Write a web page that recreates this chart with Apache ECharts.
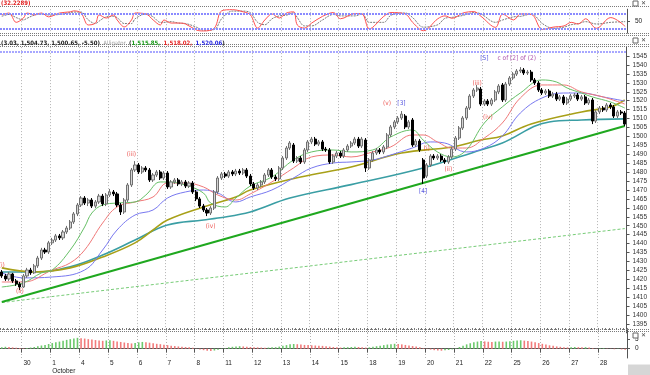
<!DOCTYPE html>
<html><head><meta charset="utf-8">
<script src="https://cdn.jsdelivr.net/npm/echarts@6/dist/echarts.min.js"></script>
<style>html,body{margin:0;padding:0;background:#fff}#c{width:650px;height:375px}</style>
</head><body><div id="c"></div>
<script>
// ---------- data ----------
const dayLabels = ['30','1','4','5','6','7','8','11','12','13','14','15','18','19','20','21','22','25','26','27','28'];
const monthUnder = {'1':'October'};
const leadBars = 6, barsPerDay = 8;

const opens = [1424.1,1421.9,1420.2,1423.0,1419.1,1417.4,1415.7,1421.9,1425.2,1423.6,
1427.5,1431.9,1436.4,1435.3,1440.4,1442.0,1444.3,1443.2,1446.5,1448.7,
1452.1,1456.6,1461.6,1465.5,1462.7,1464.4,1461.0,1463.3,1466.6,1462.2,
1467.2,1468.9,1467.8,1461.6,1457.7,1464.4,1472.8,1481.2,1484.0,1480.1,
1482.3,1481.2,1475.6,1478.4,1480.1,1476.7,1479.5,1471.7,1474.5,1475.6,
1473.4,1474.5,1472.2,1473.9,1468.9,1465.0,1461.0,1458.8,1457.1,1459.9,
1468.9,1476.7,1479.0,1477.8,1480.1,1479.0,1480.6,1479.5,1481.2,1477.8,
1473.4,1471.1,1472.8,1474.5,1478.4,1481.2,1477.3,1476.2,1482.3,1487.9,
1493.5,1495.2,1486.2,1487.9,1485.7,1492.4,1496.9,1498.5,1495.7,1496.9,
1492.9,1492.4,1485.7,1489.0,1490.7,1489.0,1492.4,1494.6,1496.3,1498.5,
1494.6,1498.0,1482.3,1486.8,1490.7,1492.4,1491.3,1494.1,1500.8,1505.3,
1508.1,1510.3,1511.4,1505.3,1509.2,1495.2,1497.4,1486.8,1477.8,1484.0,
1489.0,1487.9,1489.0,1486.8,1485.7,1488.5,1492.9,1499.1,1504.7,1510.3,
1515.9,1522.6,1526.0,1526.5,1518.1,1519.8,1518.1,1520.4,1524.9,1528.8,
1520.4,1529.3,1532.7,1534.9,1536.6,1537.2,1535.5,1536.0,1531.6,1529.9,
1526.0,1524.3,1525.4,1522.6,1523.7,1520.9,1522.1,1518.7,1520.9,1522.6,
1523.2,1520.9,1522.1,1518.7,1520.4,1508.6,1513.7,1515.9,1514.8,1517.6,
1516.5,1511.4,1513.7,1513.1];
const closes = [1421.9,1420.2,1423.0,1419.1,1417.4,1415.7,1421.9,1425.2,1423.6,1427.5,
1431.9,1436.4,1435.3,1440.4,1442.0,1444.3,1443.2,1446.5,1448.7,1452.1,
1456.6,1461.6,1465.5,1462.7,1464.4,1461.0,1463.3,1466.6,1462.2,1467.2,
1468.9,1467.8,1461.6,1457.7,1464.4,1472.8,1481.2,1484.0,1480.1,1482.3,
1481.2,1475.6,1478.4,1480.1,1476.7,1479.5,1471.7,1474.5,1475.6,1473.4,
1474.5,1472.2,1473.9,1468.9,1465.0,1461.0,1458.8,1457.1,1459.9,1468.9,
1476.7,1479.0,1477.8,1480.1,1479.0,1480.6,1479.5,1481.2,1477.8,1473.4,
1471.1,1472.8,1474.5,1478.4,1481.2,1477.3,1476.2,1482.3,1487.9,1493.5,
1496.3,1486.2,1487.9,1485.7,1492.4,1496.9,1498.5,1495.7,1496.9,1492.9,
1492.4,1485.7,1489.0,1490.7,1489.0,1492.4,1494.6,1496.3,1498.5,1494.6,
1498.5,1482.3,1486.8,1490.7,1492.4,1491.3,1494.1,1500.8,1505.3,1508.1,
1510.3,1512.5,1505.3,1508.1,1495.2,1497.4,1492.4,1476.7,1484.0,1489.0,
1487.9,1489.0,1486.8,1485.7,1488.5,1492.9,1499.1,1504.7,1510.3,1515.9,
1522.6,1526.0,1527.1,1518.1,1519.8,1518.1,1520.4,1524.9,1528.2,1520.4,
1529.3,1532.7,1534.9,1536.6,1537.2,1535.5,1536.0,1531.6,1529.9,1526.0,
1524.3,1525.4,1522.6,1523.7,1520.9,1522.1,1518.7,1520.9,1522.6,1523.2,
1520.9,1522.1,1518.7,1520.4,1508.6,1513.7,1515.9,1514.8,1517.6,1516.5,
1511.4,1513.7,1513.1,1506.9];
const lows = [1420.8,1419.1,1419.1,1418.0,1416.3,1414.0,1415.2,1420.8,1422.5,1423.0,
1426.4,1430.8,1434.2,1434.2,1439.2,1440.9,1442.0,1442.0,1445.4,1447.6,
1451.0,1455.4,1460.5,1461.6,1461.0,1459.9,1459.9,1462.2,1461.0,1461.0,
1466.1,1466.6,1460.5,1456.0,1456.6,1463.3,1471.7,1480.1,1479.0,1479.0,
1480.1,1474.5,1474.5,1477.3,1475.6,1475.6,1470.6,1470.6,1473.4,1472.2,
1472.2,1471.1,1471.1,1467.8,1463.8,1459.9,1457.7,1455.4,1456.0,1458.8,
1467.8,1475.6,1476.7,1476.7,1477.8,1477.8,1478.4,1478.4,1476.7,1472.2,
1470.0,1470.0,1471.7,1473.4,1477.3,1476.2,1475.0,1475.0,1481.2,1486.8,
1492.4,1485.1,1485.1,1484.6,1484.6,1491.3,1495.7,1494.6,1494.6,1491.8,
1491.3,1484.6,1484.6,1487.9,1487.9,1487.9,1491.3,1493.5,1495.2,1493.5,
1493.5,1480.1,1481.2,1485.7,1489.6,1490.1,1490.1,1492.9,1499.7,1504.1,
1506.9,1509.2,1504.1,1504.1,1494.1,1494.1,1491.3,1473.4,1476.7,1482.9,
1486.8,1486.8,1485.7,1484.6,1484.6,1487.4,1491.8,1498.0,1503.6,1509.2,
1514.8,1521.5,1524.9,1517.0,1517.0,1517.0,1517.0,1519.3,1523.7,1519.3,
1519.3,1528.2,1531.6,1533.8,1535.5,1534.4,1534.4,1530.5,1528.8,1524.9,
1523.2,1523.2,1521.5,1521.5,1519.8,1519.8,1517.6,1517.6,1519.8,1521.5,
1519.8,1519.8,1517.6,1517.6,1506.9,1507.5,1512.5,1513.7,1513.7,1515.3,
1510.3,1510.3,1512.0,1505.8];
const highs = [1425.2,1423.0,1424.1,1423.6,1420.2,1418.5,1423.0,1426.4,1426.4,1428.6,
1433.1,1437.6,1437.6,1441.5,1443.2,1445.4,1445.4,1447.6,1449.9,1453.2,
1457.7,1462.7,1466.6,1466.6,1465.5,1465.5,1464.4,1467.8,1467.8,1468.3,
1470.6,1470.0,1468.9,1462.7,1465.5,1473.9,1482.3,1486.2,1485.1,1483.4,
1483.4,1482.3,1479.5,1481.2,1481.2,1480.6,1480.6,1475.6,1476.7,1476.7,
1475.6,1475.6,1475.0,1475.0,1470.0,1466.1,1462.2,1459.9,1461.0,1470.0,
1477.8,1480.1,1480.1,1481.2,1481.2,1481.8,1481.8,1482.3,1482.3,1479.0,
1474.5,1473.9,1475.6,1479.5,1482.3,1482.3,1478.4,1483.4,1489.0,1494.6,
1497.4,1496.3,1489.0,1489.0,1493.5,1498.0,1499.7,1499.7,1498.0,1498.0,
1494.1,1493.5,1490.1,1491.8,1491.8,1493.5,1495.7,1497.4,1499.7,1499.7,
1499.7,1499.1,1487.9,1491.8,1493.5,1493.5,1495.2,1501.9,1506.4,1509.2,
1511.4,1514.2,1512.5,1509.2,1510.3,1498.5,1498.5,1487.9,1485.1,1490.1,
1490.1,1490.1,1490.1,1487.9,1489.6,1494.1,1500.2,1505.8,1511.4,1517.0,
1523.7,1527.1,1528.8,1527.7,1520.9,1520.9,1521.5,1526.0,1529.3,1529.9,
1530.5,1533.8,1536.0,1537.7,1538.8,1538.3,1537.2,1537.2,1532.7,1531.0,
1527.1,1526.5,1526.5,1524.9,1524.9,1523.2,1523.2,1522.1,1523.7,1524.3,
1524.3,1523.2,1523.2,1521.5,1521.5,1514.8,1517.0,1517.0,1518.7,1518.7,
1517.6,1514.8,1514.8,1514.2];

// moving-average style lines: [bar index, price]
const lipsLine = [[0,1415.7],[6,1418.0],[11,1423.6],[14,1425.2],[19,1436.4],[23,1449.3],[25,1457.1],[28,1461.6],[32,1462.7],[37,1463.3],[40,1467.2],[44,1474.5],[46,1474.5],[51,1472.8],[56,1468.3],[58,1462.7],[62,1460.5],[65,1465.5],[69,1472.2],[75,1477.3],[81,1486.8],[86,1491.3],[92,1492.4],[97,1491.3],[103,1492.4],[108,1499.7],[114,1503.6],[117,1498.0],[121,1491.3],[125,1488.5],[129,1492.4],[134,1507.5],[139,1516.5],[144,1524.3],[150,1531.6],[154,1530.5],[157,1527.1],[161,1524.3],[164,1522.1],[169,1519.3],[173,1515.9]];
const teethLine = [[0,1418.5],[6,1418.5],[14,1425.2],[19,1429.2],[23,1436.4],[28,1451.5],[32,1460.5],[37,1463.3],[42,1466.1],[46,1473.9],[51,1473.9],[56,1471.7],[60,1467.2],[65,1464.4],[69,1467.8],[75,1474.5],[81,1482.3],[86,1488.5],[92,1489.6],[97,1488.5],[103,1491.3],[108,1494.1],[114,1500.8],[117,1500.8],[121,1496.9],[125,1493.5],[129,1493.5],[134,1499.1],[139,1507.5],[144,1521.5],[150,1528.8],[156,1528.8],[161,1524.9],[167,1522.1],[173,1518.1]];
const jawLine = [[0,1423.6],[6,1420.8],[14,1421.3],[23,1425.2],[28,1436.4],[32,1447.6],[37,1456.0],[42,1458.8],[46,1465.5],[51,1468.9],[56,1470.0],[60,1468.3],[65,1463.3],[69,1466.1],[75,1470.0],[81,1476.7],[86,1482.3],[92,1485.1],[97,1485.7],[103,1486.8],[108,1489.6],[114,1493.5],[119,1496.9],[123,1496.3],[129,1491.3],[134,1493.5],[139,1500.2],[144,1513.1],[150,1521.5],[156,1524.3],[161,1524.3],[167,1522.1],[173,1519.8]];
const oliveLine = [[0,1426.4],[9,1424.1],[19,1426.4],[28,1432.5],[37,1440.4],[42,1447.6],[46,1453.2],[56,1460.5],[65,1466.1],[69,1470.0],[83,1477.3],[97,1482.9],[111,1490.7],[125,1494.1],[133,1498.0],[139,1500.2],[147,1507.0],[161,1513.7],[169,1516.5],[173,1520.4]];
const tealLine = [[0,1424.1],[9,1424.1],[19,1427.0],[28,1433.6],[37,1442.0],[46,1450.4],[56,1453.2],[60,1454.3],[69,1457.7],[80,1465.5],[97,1473.0],[117,1482.3],[133,1492.4],[139,1496.3],[152,1508.1],[161,1509.2],[173,1509.8]];
const trendMain = [[0,1407.3],[173,1505.8]];
const trendLow = [[0,1407.0],[173,1448.4]];
const topLevel = 1547.2;

const stochK = [[0,76],[2,84],[4,45],[6,63],[7,84],[9,76],[11,84],[13,68],[16,84],[19,89],[20,93],[22,84],[24,34],[26,42],[27,76],[29,63],[31,76],[32,55],[34,26],[36,55],[37,84],[40,80],[42,55],[44,34],[45,55],[47,42],[49,42],[51,38],[54,13],[56,9],[59,21],[61,93],[64,98],[67,89],[69,76],[71,21],[73,55],[75,80],[77,63],[79,84],[81,89],[82,34],[84,21],[86,42],[89,70],[92,86],[94,60],[98,82],[100,80],[102,18],[106,70],[108,86],[112,80],[114,45],[117,10],[121,60],[123,72],[125,62],[128,84],[131,90],[133,70],[137,24],[139,80],[142,55],[144,80],[147,78],[150,15],[153,25],[156,30],[158,45],[160,38],[162,60],[165,20],[169,65],[173,28]];
const stochD = [[0,70],[2,78],[4,65],[6,55],[7,62],[9,75],[11,80],[13,76],[16,78],[19,86],[20,88],[22,88],[24,55],[26,40],[27,50],[29,68],[31,70],[32,65],[34,40],[36,40],[37,60],[40,80],[42,68],[44,45],[45,45],[47,48],[49,42],[51,40],[54,25],[56,12],[59,15],[61,60],[64,92],[67,92],[69,85],[71,45],[73,35],[75,60],[77,72],[79,75],[81,85],[82,65],[84,30],[86,30],[89,55],[92,78],[94,72],[98,72],[100,80],[102,45],[106,45],[108,75],[112,84],[114,65],[117,25],[121,35],[123,62],[125,66],[128,74],[131,86],[133,80],[137,45],[139,55],[142,68],[144,70],[147,80],[150,40],[153,20],[156,25],[158,35],[160,40],[162,48],[165,38],[169,45],[173,48]];
const stochLevels = [80, 20];

const histValues = [0.8,1.0,0.9,0.7,0.5,0.3,
0.2,0.4,0.6,0.9,1.3,1.7,2.0,
2.5,3.0,3.4,3.8,4.3,4.7,5.1,5.5,5.8,
5.6,5.4,5.1,4.9,4.6,4.4,4.2,
4.4,4.5,
4.2,3.9,3.6,3.3,3.0,2.8,3.1,
3.4,3.6,3.5,
3.2,2.9,2.6,2.4,2.1,1.9,
1.6,1.4,1.2,1.0,0.9,0.7,0.5,
0.1,-0.4,-0.8,-1.1,-1.3,-1.0,-0.6,
-0.2,0.3,0.7,1.0,1.2,1.3,1.2,1.0,
0.9,0.8,0.7,0.6,0.5,0.6,0.7,0.8,
1.1,1.5,1.9,2.3,2.5,2.4,2.2,
2.0,1.9,1.8,1.7,1.6,1.5,1.3,1.1,0.9,0.7,
0.6,0.7,0.8,0.9,1.0,0.9,0.8,0.6,0.7,
1.0,1.3,1.6,1.9,2.2,2.4,2.6,2.5,
2.3,2.0,1.7,1.4,1.1,0.8,
0.3,-0.2,-0.5,-0.8,-1.0,-1.1,-0.9,-0.7,-0.4,
0.2,0.9,1.6,2.3,2.9,3.4,3.8,4.1,
3.9,3.7,3.6,3.8,3.9,3.7,3.8,
4.0,4.2,4.4,4.5,4.3,4.1,3.8,
3.4,3.0,2.6,2.2,1.8,1.5,1.2,1.0,
0.8,0.7,0.8,0.9,0.8,0.7,0.8,0.6,
0.3,0.1,0.2,0.3,0.1,-0.1,-0.3,-0.2,-0.4,-0.6];

const annotations = [
  {i:0, p:1428.0, t:'(i)', c:'#e8302a'},
  {i:5, p:1413.3, t:'(ii)', c:'#e8302a'},
  {i:36, p:1489.8, t:'(iii)', c:'#e8302a'},
  {i:58, p:1449.9, t:'(iv)', c:'#e8302a'},
  {i:107, p:1518.3, t:'(v)', c:'#e8302a'},
  {i:111, p:1518.7, t:'[3]', c:'#2a2ad8'},
  {i:117, p:1469.4, t:'[4]', c:'#2a2ad8'},
  {i:118, p:1493.5, t:'(i)', c:'#e8302a'},
  {i:124, p:1481.8, t:'(ii)', c:'#e8302a'},
  {i:132, p:1529.9, t:'(iii)', c:'#e8302a'},
  {i:135, p:1510.9, t:'(iv)', c:'#e8302a'},
  {i:134, p:1543.9, t:'[5]', c:'#2a2ad8'},
  {i:143, p:1543.9, t:'c of [2] of (2)', c:'#9a2a9a'}
];

const headerValue = '(32.2289)';
const infoMain = '(3.03, 1,504.73, 1,500.65, -5.50)';
const infoName = 'Alligator';
const infoLips = '1,515.85,', infoTeeth = '1,518.02,', infoJaw = '1,520.06';

// ---------- build ----------
const N = opens.length;
const cats = [], labelAt = {};
for (let i = 0; i < N; i++) {
  cats.push(String(i));
  if (i >= leadBars && (i - leadBars) % barsPerDay === 0) {
    const d = dayLabels[(i - leadBars) / barsPerDay];
    if (d !== undefined) labelAt[i] = d;
  }
}
const isDay = (idx) => labelAt[idx] !== undefined;
const candleData = opens.map((o, i) => [o, closes[i], lows[i], highs[i]]);
const histData = histValues.map((v, i) => ({
  value: v,
  itemStyle: { color: (i > 0 && v < histValues[i - 1]) ? '#f27c7c' : '#6cc96c' }
}));

const FONT = "'Liberation Sans', Arial, sans-serif";
const NARROW = "'Liberation Sans Narrow', 'DejaVu Sans Condensed', sans-serif";
const splitDotted = { show: true, interval: isDay, lineStyle: { color: '#b4b4b4', type: [1, 2], width: 1 } };
const plainNum = (v) => String(v);

function catAxis(grid, extra) {
  return Object.assign({
    type: 'category', gridIndex: grid, data: cats, boundaryGap: true,
    axisLine: { show: false }, axisTick: { show: false }, axisLabel: { show: false },
    splitLine: splitDotted
  }, extra || {});
}

const chart = echarts.init(document.getElementById('c'), null, { renderer: 'canvas' });

const sepLines = [];
[[6.5],[33.5,35.5],[44.5,46.5],[329.5,331.5]].forEach(g => g.forEach(y => {
  sepLines.push({ type: 'line', shape: { x1: 0, y1: y, x2: 650, y2: y },
    style: { stroke: '#7a7a7a', lineWidth: 1, lineDash: [1, 1] }, silent: true, z: 50 });
}));
const icons = [];
[[1],[38],[333]].forEach(([y]) => {
  icons.push({ type: 'rect', shape: { x: 633, y: y, width: 5, height: 5 }, style: { fill: '#fff', stroke: '#666', lineWidth: 1 }, z: 60 });
  icons.push({ type: 'text', x: 641, y: y - 1, style: { text: '✕', font: "6px 'DejaVu Sans'", fill: '#444' }, z: 60 });
});

chart.setOption({
  animation: false,
  backgroundColor: '#ffffff',
  grid: [
    { left: 0, right: 23, top: 9.2, height: 23.9 },
    { left: 0, right: 23, top: 47.1, height: 285.8 },
    { left: 0, right: 23, top: 330, height: 34 }
  ],
  xAxis: [
    catAxis(0),
    catAxis(1),
    catAxis(2, {
      axisLine: { show: true, lineStyle: { color: '#555' } },
      axisTick: { show: true, interval: isDay, length: 4, lineStyle: { color: '#555' } },
      axisLabel: {
        show: true, interval: isDay, align: 'left', margin: 1,
        fontSize: 6.5, fontFamily: FONT, color: '#222', lineHeight: 8,
        formatter: (v, idx) => {
          const d = labelAt[Number(v)];
          if (d === undefined) return '';
          return monthUnder[d] ? d + '\n' + monthUnder[d] : d;
        }
      }
    }),
    catAxis(2, {
      splitLine: { show: false },
      axisTick: { show: true, interval: 0, length: 2, lineStyle: { color: '#777' } }
    })
  ],
  yAxis: [
    { type: 'value', gridIndex: 0, position: 'right', min: 0, max: 100, interval: 50,
      axisLine: { show: true, lineStyle: { color: '#555' } },
      axisTick: { show: true, length: 3, lineStyle: { color: '#555' } },
      axisLabel: { fontSize: 6.5, fontFamily: FONT, color: '#222', margin: 8, showMinLabel: false, showMaxLabel: false, formatter: plainNum },
      splitLine: { show: false } },
    { type: 'value', gridIndex: 1, position: 'right', min: 1390, max: 1550, interval: 5,
      axisLine: { show: true, lineStyle: { color: '#555' } },
      axisTick: { show: true, length: 3, lineStyle: { color: '#555' } },
      axisLabel: { fontSize: 6.5, fontFamily: FONT, color: '#333', margin: 6, showMinLabel: false, showMaxLabel: false, formatter: plainNum },
      splitLine: { show: false } },
    { type: 'value', gridIndex: 2, position: 'right', min: -5, max: 10, interval: 5,
      axisLine: { show: true, lineStyle: { color: '#555' } },
      axisTick: { show: true, length: 3, lineStyle: { color: '#555' } },
      axisLabel: { fontSize: 6.5, fontFamily: FONT, color: '#222', margin: 8, showMinLabel: false, showMaxLabel: false, formatter: plainNum },
      splitLine: { show: false } }
  ],
  series: [
    { type: 'line', xAxisIndex: 0, yAxisIndex: 0, data: stochD, smooth: 0.35, symbol: 'none',
      lineStyle: { color: '#7a7a7a', width: 1, type: [2, 1] }, z: 3 },
    { type: 'line', xAxisIndex: 0, yAxisIndex: 0, data: stochK, smooth: 0.35, symbol: 'none',
      lineStyle: { color: '#ff5050', width: 1 }, z: 4,
      markLine: { silent: true, symbol: 'none', label: { show: false },
        lineStyle: { color: '#8a8aff', width: 2, type: [2, 1] },
        data: stochLevels.map(v => ({ yAxis: v })) } },

    { type: 'line', xAxisIndex: 1, yAxisIndex: 1, data: trendLow, symbol: 'none',
      lineStyle: { color: '#77cc77', width: 1, type: [3, 2] }, z: 2 },
    { type: 'line', xAxisIndex: 1, yAxisIndex: 1, data: trendMain, symbol: 'none',
      lineStyle: { color: '#1fa81f', width: 2 }, z: 2,
      markLine: { silent: true, symbol: 'none', label: { show: false },
        lineStyle: { color: '#8a8aff', width: 1.5, type: [2, 1] }, data: [{ yAxis: topLevel }] } },
    { type: 'line', xAxisIndex: 1, yAxisIndex: 1, data: tealLine, smooth: 0.4, symbol: 'none',
      lineStyle: { color: '#3a9ea4', width: 1.6 }, z: 3 },
    { type: 'line', xAxisIndex: 1, yAxisIndex: 1, data: oliveLine, smooth: 0.4, symbol: 'none',
      lineStyle: { color: '#a8a018', width: 1.6 }, z: 3 },
    { type: 'line', xAxisIndex: 1, yAxisIndex: 1, data: jawLine, smooth: 0.4, symbol: 'none',
      lineStyle: { color: '#7878f0', width: 1 }, z: 3 },
    { type: 'line', xAxisIndex: 1, yAxisIndex: 1, data: teethLine, smooth: 0.4, symbol: 'none',
      lineStyle: { color: '#f07878', width: 1 }, z: 3 },
    { type: 'line', xAxisIndex: 1, yAxisIndex: 1, data: lipsLine, smooth: 0.4, symbol: 'none',
      lineStyle: { color: '#66c066', width: 1 }, z: 3 },
    { type: 'candlestick', xAxisIndex: 1, yAxisIndex: 1, data: candleData, barWidth: 2.6, z: 5,
      itemStyle: { color: '#d4d4d4', color0: '#000000', borderColor: '#707070', borderColor0: '#000000', borderWidth: 1 } },
    { type: 'scatter', xAxisIndex: 1, yAxisIndex: 1, symbolSize: 0, z: 8,
      data: annotations.map(a => ({ value: [a.i, a.p], name: a.t,
        label: { show: true, position: 'inside', formatter: a.t, color: a.c, fontSize: 6.5, fontFamily: NARROW } })) },

    { type: 'bar', xAxisIndex: 2, yAxisIndex: 2, data: histData, barWidth: 1.6, z: 3 }
  ],
  graphic: [].concat(sepLines, icons, [
    { type: 'rect', shape: { x: 628, y: 364.5, width: 22, height: 11 }, style: { fill: '#d6d6d6' }, z: 40 },
    { type: 'text', x: 1, y: 0, style: { text: headerValue, font: "bold 6px " + NARROW, fill: '#e02020' }, z: 60 },
    { type: 'text', x: 1, y: 37, z: 60, style: {
      text: '{k|' + infoMain + '} {g|' + infoName + '} {k|(}{a|' + infoLips + '} {b|' + infoTeeth + '} {c|' + infoJaw + '}{k|)}',
      rich: {
        k: { fontSize: 6, fontFamily: NARROW, fontWeight: 'bold', fill: '#222' },
        g: { fontSize: 6, fontFamily: NARROW, fill: '#a0a0a0' },
        a: { fontSize: 6, fontFamily: NARROW, fontWeight: 'bold', fill: '#1a9a1a' },
        b: { fontSize: 6, fontFamily: NARROW, fontWeight: 'bold', fill: '#e82828' },
        c: { fontSize: 6, fontFamily: NARROW, fontWeight: 'bold', fill: '#2828e0' }
      } } }
  ])
});
</script></body></html>
